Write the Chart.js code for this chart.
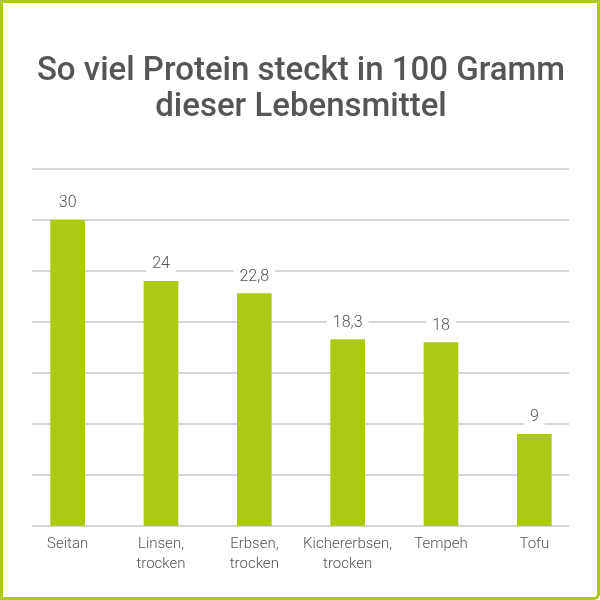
<!DOCTYPE html>
<html>
<head>
<meta charset="utf-8">
<script src="https://cdn.jsdelivr.net/npm/chart.js@4"></script>
<style>
  html, body { margin: 0; padding: 0; background: #fff; }
  #wrap { position: relative; width: 600px; height: 600px; }
  #wrap::after {
    content: "";
    position: absolute;
    inset: 0;
    border: 3px solid #adc916;
    border-radius: 0 0 6px 0;
    pointer-events: none;
  }
</style>
</head>
<body>
<div id="wrap"><canvas id="chart" width="600" height="600"></canvas></div>
<script>
const categories = [
  ["Seitan"],
  ["Linsen,", "trocken"],
  ["Erbsen,", "trocken"],
  ["Kichererbsen,", "trocken"],
  ["Tempeh"],
  ["Tofu"],
];
const proteinValues = [30, 24, 22.8, 18.3, 18, 9];
const yMax = 35;
const yStep = 5;

const green = "#adc916";
const textGray = "#555555";

// grid lines are shorter than the bar area, so draw them ourselves
const gridLines = {
  id: "gridLines",
  beforeDatasetsDraw(chart) {
    const { ctx, scales } = chart;
    ctx.save();
    ctx.strokeStyle = "#d6d6d6";
    ctx.lineWidth = 2;
    scales.y.ticks.forEach((t) => {
      const py = Math.round(scales.y.getPixelForValue(t.value));
      ctx.beginPath();
      ctx.moveTo(32, py);
      ctx.lineTo(569, py);
      ctx.stroke();
    });
    ctx.restore();
  },
};

const valueLabels = {
  id: "valueLabels",
  afterDatasetsDraw(chart) {
    const { ctx } = chart;
    const meta = chart.getDatasetMeta(0);
    ctx.save();
    ctx.font = "300 16px Roboto";
    ctx.textAlign = "center";
    ctx.textBaseline = "middle";
    meta.data.forEach((bar, i) => {
      const text = proteinValues[i].toLocaleString("de-DE");
      const w = ctx.measureText(text).width;
      const cy = bar.y - 17;
      ctx.fillStyle = "#fff";
      ctx.fillRect(bar.x - w / 2 - 6, cy - 10, w + 12, 20);
      ctx.fillStyle = textGray;
      ctx.fillText(text, bar.x, cy);
    });
    ctx.restore();
  },
};

new Chart(document.getElementById("chart"), {
  type: "bar",
  data: {
    labels: categories,
    datasets: [
      {
        data: proteinValues,
        backgroundColor: green,
        borderWidth: 0,
        barThickness: 34,
      },
    ],
  },
  options: {
    responsive: false,
    animation: false,
    layout: { padding: { left: 21, right: 19, top: 0, bottom: 18 } },
    plugins: {
      legend: { display: false },
      tooltip: { enabled: false },
      title: {
        display: true,
        text: ["So viel Protein steckt in 100 Gramm", "dieser Lebensmittel"],
        color: "#555555",
        font: { family: "Roboto", size: 33, weight: "500", lineHeight: 1.08 },
        padding: { top: 54, bottom: 44 },
      },
    },
    scales: {
      x: {
        grid: { display: false, drawTicks: false },
        border: { display: false },
        ticks: {
          color: textGray,
          font: { family: "Roboto", size: 15, weight: "300", lineHeight: 1.33 },
          padding: 8,
          maxRotation: 0,
          autoSkip: false,
        },
      },
      y: {
        min: 0,
        max: yMax,
        grid: { display: false, drawTicks: false },
        border: { display: false },
        ticks: { display: false, stepSize: yStep },
      },
    },
  },
  plugins: [gridLines, valueLabels],
});
</script>
</body>
</html>
